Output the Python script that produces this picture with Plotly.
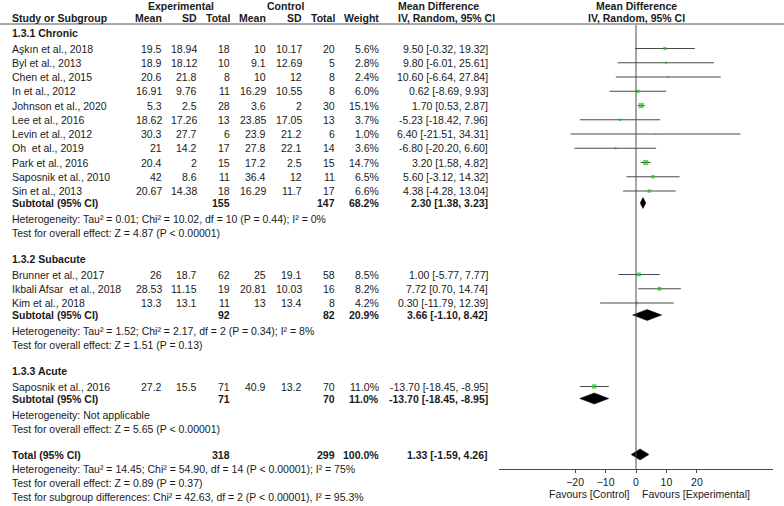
import plotly.graph_objects as go

W, H = 784, 506
FONT = "Liberation Sans, Arial, sans-serif"
FS = 10.5
INK = "#1a1a1a"
GREEN = "#22c022"
LINE = "#4a4a4a"

# ---- data ----
studies = ["Aşkın et al., 2018", "Byl et al., 2013", "Chen et al., 2015", "In et al., 2012",
           "Johnson et al., 2020", "Lee et al., 2016", "Levin et al., 2012", "Oh  et al., 2019",
           "Park et al., 2016", "Saposnik et al., 2010", "Sin et al., 2013",
           "Brunner et al., 2017", "Ikbali Afsar  et al., 2018", "Kim et al., 2018",
           "Saposnik et al., 2016"]
group_of = [0] * 11 + [1] * 3 + [2]
exp_mean = [19.5, 18.9, 20.6, 16.91, 5.3, 18.62, 30.3, 21, 20.4, 42, 20.67, 26, 28.53, 13.3, 27.2]
exp_sd = [18.94, 18.12, 21.8, 9.76, 2.5, 17.26, 27.7, 14.2, 2, 8.6, 14.38, 18.7, 11.15, 13.1, 15.5]
exp_n = [18, 10, 8, 11, 28, 13, 6, 17, 15, 11, 18, 62, 19, 11, 71]
ctl_mean = [10, 9.1, 10, 16.29, 3.6, 23.85, 23.9, 27.8, 17.2, 36.4, 16.29, 25, 20.81, 13, 40.9]
ctl_sd = [10.17, 12.69, 12, 10.55, 2, 17.05, 21.2, 22.1, 2.5, 12, 11.7, 19.1, 10.03, 13.4, 13.2]
ctl_n = [20, 5, 8, 8, 30, 13, 6, 14, 15, 11, 17, 58, 16, 8, 70]
weights = [5.6, 2.8, 2.4, 6.0, 15.1, 3.7, 1.0, 3.6, 14.7, 6.5, 6.6, 8.5, 8.2, 4.2, 11.0]
md = [9.50, 9.80, 10.60, 0.62, 1.70, -5.23, 6.40, -6.80, 3.20, 5.60, 4.38, 1.00, 7.72, 0.30, -13.70]
md_lo = [-0.32, -6.01, -6.64, -8.69, 0.53, -18.42, -21.51, -20.20, 1.58, -3.12, -4.28, -5.77, 0.70, -11.79, -18.45]
md_hi = [19.32, 25.61, 27.84, 9.93, 2.87, 7.96, 34.31, 6.60, 4.82, 14.32, 13.04, 7.77, 14.74, 12.39, -8.95]

groups = ["1.3.1 Chronic", "1.3.2 Subacute", "1.3.3 Acute"]
sub_exp_n = [155, 92, 71]
sub_ctl_n = [147, 82, 70]
sub_weight = [68.2, 20.9, 11.0]
sub_md = [2.30, 3.66, -13.70]
sub_lo = [1.38, -1.10, -18.45]
sub_hi = [3.23, 8.42, -8.95]
sub_het = ["Heterogeneity: Tau² = 0.01; Chi² = 10.02, df = 10 (P = 0.44); I² = 0%",
           "Heterogeneity: Tau² = 1.52; Chi² = 2.17, df = 2 (P = 0.34); I² = 8%",
           "Heterogeneity: Not applicable"]
sub_test = ["Test for overall effect: Z = 4.87 (P < 0.00001)",
            "Test for overall effect: Z = 1.51 (P = 0.13)",
            "Test for overall effect: Z = 5.65 (P < 0.00001)"]

total_exp_n, total_ctl_n, total_weight = 318, 299, 100.0
total_md, total_lo, total_hi = 1.33, -1.59, 4.26
total_notes = ["Heterogeneity: Tau² = 14.45; Chi² = 54.90, df = 14 (P < 0.00001); I² = 75%",
               "Test for overall effect: Z = 0.89 (P = 0.37)",
               "Test for subgroup differences: Chi² = 42.63, df = 2 (P < 0.00001), I² = 95.3%"]

ticks = [-20, -10, 0, 10, 20]

# ---- layout of rows (pixel y) ----
COLS = [164, 199, 232, 268, 304, 337, 381]
CI_X = 490
HEAD_LINE = 24
AXIS_Y = 469

ann = []


def txt(x, y, s, anchor="right", bold=False):
    ann.append(dict(x=x / W, y=y, xref="paper", yref="y", showarrow=False,
                    text="<b>%s</b>" % s if bold else s, xanchor=anchor, yanchor="middle",
                    font=dict(size=FS, color=INK, family=FONT)))


def fmt_ci(m, l, h):
    return "%.2f [%.2f, %.2f]" % (m, l, h)


study_y = []
diam = []  # (est, lo, hi, y)

y = 33.0
for g, gname in enumerate(groups):
    txt(10, y, gname, "left", True)
    y += 15.5
    first = True
    for i, name in enumerate(studies):
        if group_of[i] != g:
            continue
        if not first:
            y += 14.25
        first = False
        study_y.append(y)
        txt(10, y, name, "left")
        vals = ["%g" % exp_mean[i], "%g" % exp_sd[i], str(exp_n[i]),
                "%g" % ctl_mean[i], "%g" % ctl_sd[i], str(ctl_n[i]), "%.1f%%" % weights[i]]
        for cx, v in zip(COLS, vals):
            txt(cx, y, v)
        txt(CI_X, y, fmt_ci(md[i], md_lo[i], md_hi[i]))
    y += 12
    txt(10, y, "Subtotal (95% CI)", "left", True)
    txt(COLS[2], y, str(sub_exp_n[g]), bold=True)
    txt(COLS[5], y, str(sub_ctl_n[g]), bold=True)
    txt(COLS[6], y, "%.1f%%" % sub_weight[g], bold=True)
    txt(CI_X, y, fmt_ci(sub_md[g], sub_lo[g], sub_hi[g]), bold=True)
    diam.append((sub_md[g], sub_lo[g], sub_hi[g], y))
    y += 16
    txt(10, y, sub_het[g], "left")
    y += 14
    txt(10, y, sub_test[g], "left")
    y += 26

txt(10, y, "Total (95% CI)", "left", True)
txt(COLS[2], y, str(total_exp_n), bold=True)
txt(COLS[5], y, str(total_ctl_n), bold=True)
txt(COLS[6], y, "%.1f%%" % total_weight, bold=True)
txt(CI_X, y, fmt_ci(total_md, total_lo, total_hi), bold=True)
diam.append((total_md, total_lo, total_hi, y))
for note in total_notes:
    y += 14
    txt(10, y, note, "left")

# headers
txt(181, 6, "Experimental", "center", True)
txt(285.5, 6, "Control", "center", True)
txt(396, 6, "Mean Difference", "left", True)
txt(10, 18, "Study or Subgroup", "left", True)
for cx, lab in zip(COLS, ["Mean", "SD", "Total", "Mean", "SD", "Total", "Weight"]):
    txt(cx, 18, lab, bold=True)
txt(396, 18, "IV, Random, 95% CI", "left", True)
ann.append(dict(x=0, y=6, xref="x", yref="y", showarrow=False, text="<b>Mean Difference</b>",
                xanchor="center", yanchor="middle", font=dict(size=FS, color=INK, family=FONT)))
ann.append(dict(x=0, y=18, xref="x", yref="y", showarrow=False, text="<b>IV, Random, 95% CI</b>",
                xanchor="center", yanchor="middle", font=dict(size=FS, color=INK, family=FONT)))
ann.append(dict(x=0, y=494, xref="x", yref="y", showarrow=False, text="Favours [Control]",
                xanchor="right", xshift=-4, yanchor="middle", font=dict(size=FS, color=INK, family=FONT)))
ann.append(dict(x=0, y=494, xref="x", yref="y", showarrow=False, text="Favours [Experimental]",
                xanchor="left", xshift=4, yanchor="middle", font=dict(size=FS, color=INK, family=FONT)))

# ---- forest marks ----
fig = go.Figure()

lx, ly = [], []
for l, h, yy in zip(md_lo, md_hi, study_y):
    lx += [l, h, None]
    ly += [yy, yy, None]
fig.add_trace(go.Scatter(x=lx, y=ly, mode="lines", line=dict(color=LINE, width=1),
                         hoverinfo="skip", showlegend=False))

fig.add_trace(go.Scatter(x=md, y=study_y, mode="markers",
                         marker=dict(symbol="square", color=GREEN, line_width=0,
                                     size=[1.35 * w ** 0.5 for w in weights]),
                         showlegend=False))

DH = 5.5
dx, dy = [], []
for m, l, h, yy in diam:
    dx += [l, m, h, m, l, None]
    dy += [yy, yy - DH, yy, yy + DH, yy, None]
fig.add_trace(go.Scatter(x=dx, y=dy, mode="lines", fill="toself", fillcolor="black",
                         line=dict(color="black", width=0.5), hoverinfo="skip", showlegend=False))

fig.add_shape(type="line", xref="x", yref="y", x0=0, x1=0, y0=HEAD_LINE + 1, y1=AXIS_Y,
              line=dict(color=LINE, width=1))
fig.add_shape(type="line", xref="paper", yref="y", x0=0, x1=1, y0=HEAD_LINE, y1=HEAD_LINE,
              line=dict(color="#555555", width=1))

fig.update_layout(
    width=W, height=H, margin=dict(l=0, r=0, t=0, b=0),
    paper_bgcolor="white", plot_bgcolor="white",
    annotations=ann,
    xaxis=dict(domain=[499 / W, 773 / W], range=[-45, 45], tickvals=ticks,
               ticks="outside", ticklen=3, tickcolor=LINE, showline=True, linecolor=LINE,
               showgrid=False, zeroline=False, anchor="free", position=1 - AXIS_Y / H,
               tickfont=dict(size=FS, color=INK, family=FONT)),
    yaxis=dict(domain=[0, 1], range=[H, 0], visible=False, showgrid=False, zeroline=False),
)

# page body has a default margin; drop it so the figure sits at the window corner
fig.write_html("out.html", config={"displayModeBar": False},
               post_script="document.body.style.margin='0';")
